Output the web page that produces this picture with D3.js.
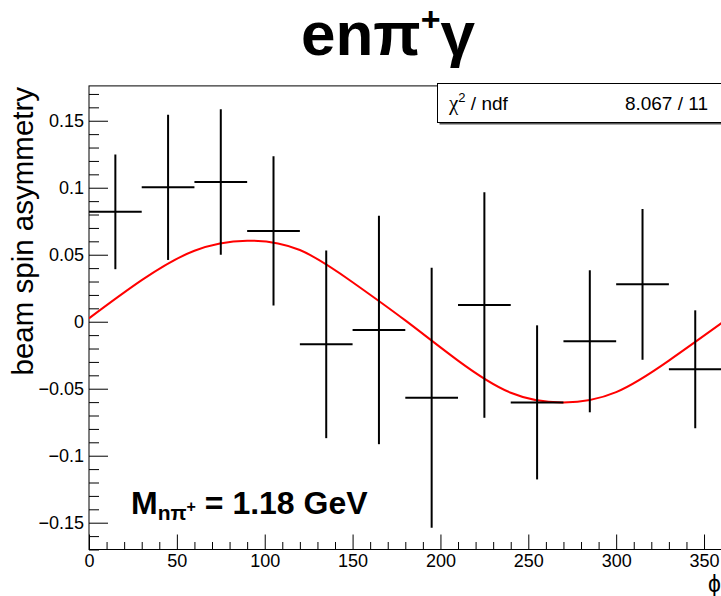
<!DOCTYPE html>
<html>
<head>
<meta charset="utf-8">
<script src="https://cdn.jsdelivr.net/npm/d3@7"></script>
<style>
  body { margin: 0; background: #fff; }
  text { font-family: "Liberation Sans", Arial, sans-serif; }
</style>
</head>
<body>
<script>
// bin centres in phi (deg) and the measured asymmetry with its error
const phiBins = [15, 45, 75, 105, 135, 165, 195, 225, 255, 285, 315, 345];
const binWidth = 30;
const asym = [0.082, 0.1003, 0.1043, 0.0678, -0.0169, -0.0062, -0.0567, 0.0125, -0.0602, -0.0146, 0.0279, -0.0355];
const asymErr = [0.0428, 0.0542, 0.0543, 0.0557, 0.070, 0.0852, 0.097, 0.0842, 0.0575, 0.053, 0.0563, 0.044];

// fit curve
const fitPhi = [0, 30, 60, 90, 120, 150, 180, 210, 240, 270, 300, 330, 360];
const fitVal = [0.0025, 0.031, 0.053, 0.0605, 0.0535, 0.0295, 0.001, -0.029, -0.053, -0.0602, -0.0525, -0.029, -0.001];

// axis ticks
const xTicks = [0, 50, 100, 150, 200, 250, 300, 350];
const yTicks = [-0.15, -0.1, -0.05, 0, 0.05, 0.1, 0.15];
const yTickLabels = ["\u22120.15", "\u22120.1", "\u22120.05", "0", "0.05", "0.1", "0.15"];

const chi2Label = "8.067 / 11";
const massLabel = "1.18 GeV";

const width = 721, height = 596;
const svg = d3.select("body").append("svg")
  .attr("width", width)
  .attr("height", height);

const x = d3.scaleLinear().domain([0, 360]).range([89, 721.6]);
const y = d3.scaleLinear().domain([-0.17, 0.176]).range([549.5, 85.9]);

svg.append("clipPath").attr("id", "frameClip")
  .append("rect")
  .attr("x", x(0)).attr("y", y(0.176))
  .attr("width", x(360) - x(0)).attr("height", y(-0.17) - y(0.176));

// 标题
const title = svg.append("text")
  .attr("x", 388).attr("y", 55)
  .attr("text-anchor", "middle")
  .attr("font-size", "62px")
  .attr("font-weight", "bold")
  .attr("fill", "#000");
title.append("tspan").text("en\u03c0");
title.append("tspan").attr("font-size", "34px").attr("dy", -24).text("+");
title.append("tspan").attr("dy", 24).text("\u03b3");

// frame
svg.append("rect")
  .attr("x", x(0)).attr("y", y(0.176))
  .attr("width", x(360) - x(0)).attr("height", y(-0.17) - y(0.176))
  .attr("fill", "none")
  .attr("stroke", "#000")
  .attr("stroke-width", 1);

// x axis: major + minor ticks pointing inwards
const xMinor = d3.range(0, 361, 10).filter((v) => v % 50 !== 0);
svg.append("g")
  .attr("transform", `translate(0,${y(-0.17)})`)
  .call(d3.axisBottom(x).tickValues(xMinor).tickSizeInner(-7.5).tickSizeOuter(0).tickFormat(""))
  .call((g) => g.select(".domain").remove());
svg.append("g")
  .attr("transform", `translate(0,${y(-0.17)})`)
  .call(d3.axisBottom(x).tickValues(xTicks).tickSizeInner(-15).tickSizeOuter(0).tickPadding(5).tickFormat(d3.format("d")))
  .call((g) => g.select(".domain").remove())
  .call((g) => g.selectAll("text").attr("font-size", "18px").attr("fill", "#000").attr("font-family", "Liberation Sans, Arial, sans-serif"));

// y axis
const yMinor = d3.range(-17, 18).map((v) => v / 100).filter((v) => Math.abs(Math.round(v * 100)) % 5 !== 0);
svg.append("g")
  .attr("transform", `translate(${x(0)},0)`)
  .call(d3.axisLeft(y).tickValues(yMinor).tickSizeInner(-10).tickSizeOuter(0).tickFormat(""))
  .call((g) => g.select(".domain").remove());
svg.append("g")
  .attr("transform", `translate(${x(0)},0)`)
  .call(d3.axisLeft(y).tickValues(yTicks).tickSizeInner(-19).tickSizeOuter(0).tickPadding(5)
    .tickFormat((d, i) => yTickLabels[i]))
  .call((g) => g.select(".domain").remove())
  .call((g) => g.selectAll("text").attr("font-size", "18px").attr("fill", "#000").attr("font-family", "Liberation Sans, Arial, sans-serif"));

svg.selectAll(".tick line").attr("stroke", "#000");

// axis titles
svg.append("text")
  .attr("transform", `translate(33,${y(0.176) + 1}) rotate(-90)`)
  .attr("text-anchor", "end")
  .attr("font-size", "29.5px")
  .attr("fill", "#000")
  .text("beam spin asymmetry");

svg.append("text")
  .attr("x", 721).attr("y", 592)
  .attr("text-anchor", "end")
  .attr("font-size", "23px")
  .attr("fill", "#000")
  .text("\u03d5");

// fit
const plot = svg.append("g").attr("clip-path", "url(#frameClip)");
plot.append("path")
  .datum(fitPhi.map((p, i) => [p, fitVal[i]]))
  .attr("d", d3.line().x((d) => x(d[0])).y((d) => y(d[1])).curve(d3.curveNatural))
  .attr("fill", "none")
  .attr("stroke", "#ff0000")
  .attr("stroke-width", 2);

// error bars (horizontal = bin width, vertical = error)
const bars = plot.selectAll(".bar")
  .data(phiBins.map((p, i) => ({ phi: p, v: asym[i], e: asymErr[i] })))
  .join("g")
  .attr("class", "bar");
bars.append("line")
  .attr("x1", (d) => x(d.phi - binWidth / 2)).attr("x2", (d) => x(d.phi + binWidth / 2))
  .attr("y1", (d) => y(d.v)).attr("y2", (d) => y(d.v))
  .attr("stroke", "#000").attr("stroke-width", 2);
bars.append("line")
  .attr("x1", (d) => x(d.phi)).attr("x2", (d) => x(d.phi))
  .attr("y1", (d) => y(d.v - d.e)).attr("y2", (d) => y(d.v + d.e))
  .attr("stroke", "#000").attr("stroke-width", 2);

// stats box
svg.append("rect")
  .attr("x", 439.5).attr("y", 85.5).attr("width", 300).attr("height", 39)
  .attr("fill", "#555");
svg.append("rect")
  .attr("x", 437.5).attr("y", 83.5).attr("width", 300).attr("height", 39)
  .attr("fill", "#fff").attr("stroke", "#000").attr("stroke-width", 1);
const chi = svg.append("text")
  .attr("x", 449).attr("y", 110)
  .attr("font-size", "19px").attr("fill", "#000");
chi.append("tspan").attr("font-family", "Liberation Serif, serif").attr("font-size", "21px").text("\u03c7");
chi.append("tspan").attr("font-size", "13px").attr("dy", -8).text("2");
chi.append("tspan").attr("dy", 8).text(" / ndf");
svg.append("text")
  .attr("x", 708).attr("y", 110)
  .attr("text-anchor", "end")
  .attr("font-size", "19px").attr("fill", "#000")
  .text(chi2Label);

// mass label
const m = svg.append("text")
  .attr("x", 131).attr("y", 514)
  .attr("font-size", "32px").attr("font-weight", "bold").attr("fill", "#000");
m.append("tspan").text("M");
m.append("tspan").attr("font-size", "21px").attr("dy", 6).text("n\u03c0");
m.append("tspan").attr("font-size", "16px").attr("dy", -8).text("+");
m.append("tspan").attr("dy", 2).text(" = " + massLabel);
</script>
</body>
</html>
